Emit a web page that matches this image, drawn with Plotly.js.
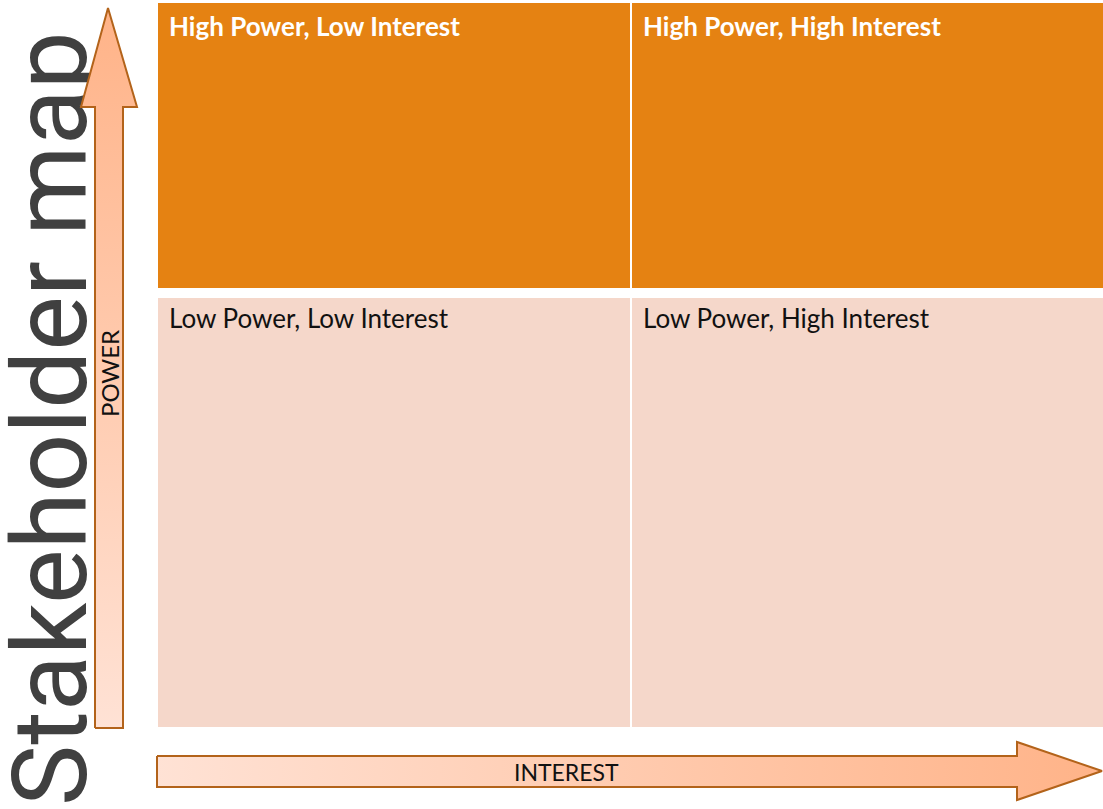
<!DOCTYPE html>
<html>
<head>
<meta charset="utf-8">
<script src="https://cdn.plot.ly/plotly-3.0.1.min.js"></script>
<style>html,body{margin:0;padding:0;background:#fff;}#chart{width:1103px;height:809px;}</style>
</head>
<body>
<div id="chart"></div>
<script>
// ---- data ----
const interestLevels = ["Low Interest", "High Interest"];
const powerLevels = ["High Power", "Low Power"];            // top row first
const quadrantLabels = [
  ["High Power, Low Interest", "High Power, High Interest"],
  ["Low Power, Low Interest", "Low Power, High Interest"]
];
const quadrantPriority = [[1, 1], [0, 0]];
const chartTitle = "Stakeholder map";
const yAxisLabel = "POWER";
const xAxisLabel = "INTEREST";

// ---- layout geometry (pixel grid) ----
const W = 1103, H = 809;
const gridLeft = 158, gridRight = 1103, gridTop = 3, gridBottom = 727;
const splitX = 631, splitY = 293, gapX = 2, gapY = 10;
const xEdges = [gridLeft - gapX / 2, splitX, gridRight + gapX / 2];
const yEdges = [gridTop - gapY / 2, splitY, gridBottom + gapY / 2];

const edgeColor = '#B3631A';
const heat = {
  type: 'heatmap',
  x: xEdges, y: yEdges, z: quadrantPriority,
  xgap: gapX, ygap: gapY,
  zmin: 0, zmax: 1,
  colorscale: [[0, '#F5D7CA'], [1, '#E58212']],
  showscale: false, hoverinfo: 'skip'
};

// arrows (decorative)
const vArrow = {
  type: 'scatter', mode: 'lines', hoverinfo: 'skip',
  x: [95, 95, 81, 108, 137, 123, 123, 95],
  y: [728, 107, 107, 8, 107, 107, 728, 728],
  fill: 'toself',
  fillgradient: {type: 'vertical', start: 728, stop: 8,
    colorscale: [[0, '#FFE2D5'], [1, '#FFB388']]},
  line: {color: edgeColor, width: 2}
};
const hArrow = {
  type: 'scatter', mode: 'lines', hoverinfo: 'skip',
  x: [157, 1017, 1017, 1102, 1017, 1017, 157, 157],
  y: [756, 756, 742, 771, 800, 787, 787, 756],
  fill: 'toself',
  fillgradient: {type: 'horizontal', start: 157, stop: 1102,
    colorscale: [[0, '#FFE2D5'], [1, '#FFB388']]},
  line: {color: edgeColor, width: 2}
};

const annotations = [];
for (let r = 0; r < powerLevels.length; r++) {
  for (let c = 0; c < interestLevels.length; c++) {
    const top = r === 0;
    annotations.push({
      x: xEdges[c] + gapX / 2 + 9, y: yEdges[r] + gapY / 2 + (top ? 5 : 2),
      xref: 'x', yref: 'y', xanchor: 'left', yanchor: 'top',
      text: top ? '<b>' + quadrantLabels[r][c] + '</b>' : quadrantLabels[r][c],
      showarrow: false,
      font: {family: 'Lato, sans-serif', size: 26, color: top ? '#FFFFFF' : '#111111'}
    });
  }
}
const titleIndex = annotations.length;
annotations.push({
  x: 50, y: 419, xref: 'x', yref: 'y', text: chartTitle, textangle: -90,
  showarrow: false, xanchor: 'center', yanchor: 'middle',
  font: {family: 'Roboto, sans-serif', size: 103, color: '#404040'}
});
annotations.push({
  x: 109, y: 374, xref: 'x', yref: 'y', text: yAxisLabel, textangle: -90,
  showarrow: false, font: {family: 'Lato, sans-serif', size: 24, color: '#111111'}
});
annotations.push({
  x: 566, y: 772, xref: 'x', yref: 'y', text: xAxisLabel,
  showarrow: false, font: {family: 'Lato, sans-serif', size: 23, color: '#111111'}
});

const layout = {
  width: W, height: H,
  margin: {l: 0, r: 0, t: 0, b: 0, pad: 0},
  paper_bgcolor: '#FFFFFF', plot_bgcolor: '#FFFFFF',
  showlegend: false,
  xaxis: {range: [0, W], visible: false, fixedrange: true},
  yaxis: {range: [H, 0], visible: false, fixedrange: true},
  annotations: annotations
};

Plotly.newPlot('chart', [heat, vArrow, hArrow], layout, {displayModeBar: false, staticPlot: true})
  .then(function (gd) {
    // the big title sits beneath the arrow, as in the reference
    const el = gd.querySelector('.infolayer .annotation[data-index="' + titleIndex + '"]');
    const bg = gd.querySelector('.main-svg .bglayer');
    if (el && bg) bg.parentNode.insertBefore(el, bg.nextSibling);
  });
</script>
</body>
</html>
